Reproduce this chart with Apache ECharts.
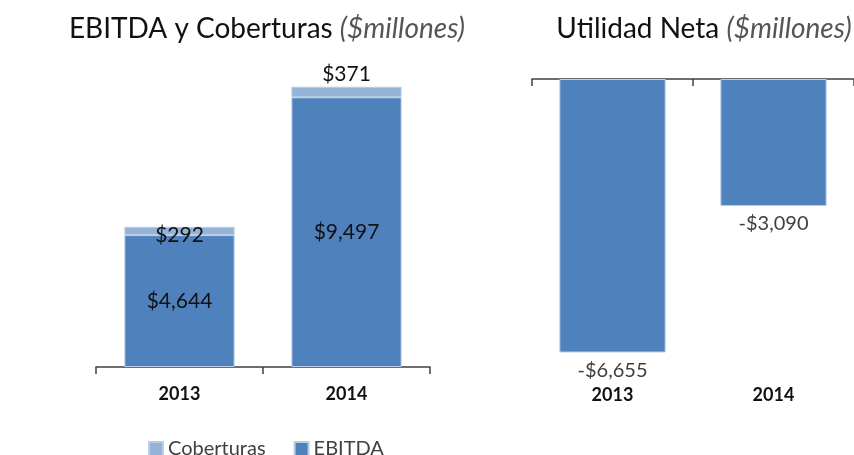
<!DOCTYPE html>
<html>
<head>
<meta charset="utf-8">
<script src="https://cdn.jsdelivr.net/npm/echarts@6/dist/echarts.min.js"></script>
<style>
  html, body { margin: 0; padding: 0; background: #fff; }
  #chart { width: 854px; height: 455px; }
</style>
</head>
<body>
<div id="chart"></div>
<script>
var years = ['2013', '2014'];
var ebitda = [4644, 9497];
var coberturas = [292, 371];
var utilidadNeta = [-6655, -3090];

var font = 'Lato';

function money(v) {
    var s = '$' + Math.abs(v).toLocaleString('en-US');
    return v < 0 ? '-' + s : s;
}

var chart = echarts.init(document.getElementById('chart'));

var barBorder = { borderColor: '#b9cde5', borderWidth: 1 };

function titleStyle() {
    return {
        fontFamily: font, fontSize: 28, fontWeight: 'normal', color: '#111',
        rich: { i: { fontFamily: font, fontSize: 28, fontStyle: 'italic', color: '#555' } }
    };
}

var option = {
    animation: false,
    textStyle: { fontFamily: font },
    title: [{
        text: 'EBITDA y Coberturas {i|($millones)}',
        left: 262,
        top: 10,
        textAlign: 'center',
        textStyle: titleStyle()
    }, {
        text: 'Utilidad Neta {i|($millones)}',
        left: 699,
        top: 10,
        textAlign: 'center',
        textStyle: titleStyle()
    }],
    legend: {
        data: ['Coberturas', 'EBITDA'],
        left: 143,
        top: 434,
        icon: 'rect',
        itemWidth: 14,
        itemHeight: 14,
        itemGap: 28,
        textStyle: { fontFamily: font, fontSize: 20, color: '#404040' }
    },
    grid: [
        { left: 96, width: 334, top: 83, bottom: 88 },
        { left: 532, width: 334, top: 79, bottom: 76 }
    ],
    xAxis: [{
        type: 'category', gridIndex: 0, data: years,
        axisLine: { lineStyle: { color: '#404040', width: 1.5 } },
        axisTick: { show: true, length: 7, lineStyle: { color: '#404040', width: 1.5 } },
        axisLabel: { margin: 18, fontFamily: font, fontSize: 18, fontWeight: 'bold', color: '#111' }
    }, {
        type: 'category', gridIndex: 1, data: years, position: 'top',
        axisLine: { onZero: false, lineStyle: { color: '#404040', width: 1.5 } },
        axisTick: { show: true, inside: true, length: 7, lineStyle: { color: '#404040', width: 1.5 } },
        axisLabel: { show: false }
    }, {
        type: 'category', gridIndex: 1, data: years, position: 'bottom',
        axisLine: { show: false, onZero: false },
        axisTick: { show: false },
        axisLabel: { margin: 7, fontFamily: font, fontSize: 18, fontWeight: 'bold', color: '#111' }
    }],
    yAxis: [
        { type: 'value', gridIndex: 0, min: 0, max: 10000, show: false, splitLine: { show: false } },
        { type: 'value', gridIndex: 1, min: -7300, max: 0, show: false, splitLine: { show: false } }
    ],
    series: [{
        name: 'EBITDA',
        type: 'bar',
        stack: 'a',
        xAxisIndex: 0, yAxisIndex: 0,
        barWidth: '66%',
        data: ebitda,
        itemStyle: Object.assign({ color: '#4f81bd' }, barBorder),
        label: {
            show: true, position: 'inside',
            formatter: function (p) { return money(p.value); },
            fontFamily: font, fontSize: 21, color: '#111'
        }
    }, {
        name: 'Coberturas',
        type: 'bar',
        stack: 'a',
        xAxisIndex: 0, yAxisIndex: 0,
        barWidth: '66%',
        data: coberturas.map(function (v, i) {
            return {
                value: v,
                label: i === 0 ? { position: 'inside', offset: [0, 4] } : { position: 'top', distance: 2 }
            };
        }),
        itemStyle: Object.assign({ color: '#95b3d7' }, barBorder),
        label: {
            show: true,
            formatter: function (p) { return money(p.value); },
            fontFamily: font, fontSize: 21, color: '#111'
        }
    }, {
        name: 'Utilidad Neta',
        type: 'bar',
        xAxisIndex: 1, yAxisIndex: 1,
        barWidth: '66%',
        data: utilidadNeta,
        itemStyle: Object.assign({ color: '#4f81bd' }, barBorder),
        label: {
            show: true, position: 'bottom', distance: 8,
            formatter: function (p) { return money(p.value); },
            fontFamily: font, fontSize: 20, color: '#404040'
        }
    }]
};

chart.setOption(option);
</script>
</body>
</html>
